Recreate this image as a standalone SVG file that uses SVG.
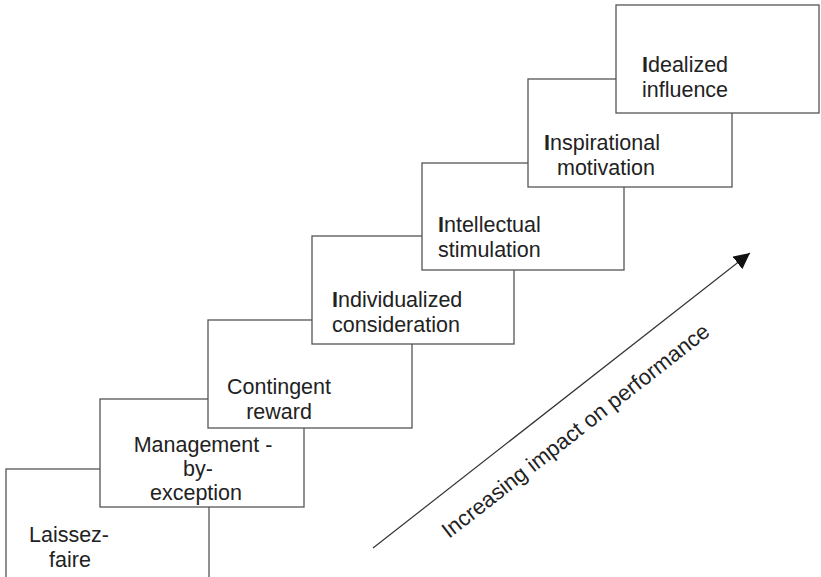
<svg xmlns="http://www.w3.org/2000/svg" width="821" height="577" viewBox="0 0 821 577">
<style>
.box{fill:#fff;stroke:#555;stroke-width:1.3}
.t{font-family:"Liberation Sans",Arial,sans-serif;font-size:21.5px;fill:#222}
.b{font-weight:bold}
.arrow{stroke:#333;stroke-width:1.2;fill:none}
</style>
<defs>
<marker id="ah" viewBox="0 0 10 10" refX="10" refY="5" markerWidth="16" markerHeight="16" markerUnits="userSpaceOnUse" orient="auto">
<path d="M0,0 L10,5 L0,10 z" fill="#111"/>
</marker>
</defs>
<g id="laissez-faire">
<rect class="box" x="6" y="469" width="203" height="140"/>
<text class="t" text-anchor="middle"><tspan x="69" y="542">Laissez-</tspan><tspan x="70" y="567">faire</tspan></text>
</g>
<g id="management-by-exception">
<rect class="box" x="100" y="399" width="204" height="108"/>
<text class="t" text-anchor="middle"><tspan x="203" y="452">Management -</tspan><tspan x="198" y="476">by-</tspan><tspan x="196" y="500">exception</tspan></text>
</g>
<g id="contingent-reward">
<rect class="box" x="208" y="320" width="204" height="108"/>
<text class="t" text-anchor="middle"><tspan x="279" y="394">Contingent</tspan><tspan x="279" y="419">reward</tspan></text>
</g>
<g id="individualized-consideration">
<rect class="box" x="312" y="236" width="202" height="108"/>
<text class="t"><tspan x="332" y="307"><tspan class="b">I</tspan>ndividualized</tspan><tspan x="332" y="332">consideration</tspan></text>
</g>
<g id="intellectual-stimulation">
<rect class="box" x="422" y="163" width="202" height="107"/>
<text class="t"><tspan x="438" y="232"><tspan class="b">I</tspan>ntellectual</tspan><tspan x="438" y="257">stimulation</tspan></text>
</g>
<g id="inspirational-motivation">
<rect class="box" x="528" y="79" width="204" height="108"/>
<text class="t"><tspan x="544" y="150"><tspan class="b">I</tspan>nspirational</tspan><tspan x="557" y="175">motivation</tspan></text>
</g>
<g id="idealized-influence">
<rect class="box" x="616" y="5" width="203" height="108"/>
<text class="t"><tspan x="642" y="72"><tspan class="b">I</tspan>dealized</tspan><tspan x="642" y="97">influence</tspan></text>
</g>
<g id="connectors">
<line class="arrow" x1="373" y1="548" x2="750" y2="253" marker-end="url(#ah)"/>
<text class="t" style="font-size:22px" transform="translate(449 539) rotate(-38)">Increasing impact on performance</text>
</g>
</svg>
